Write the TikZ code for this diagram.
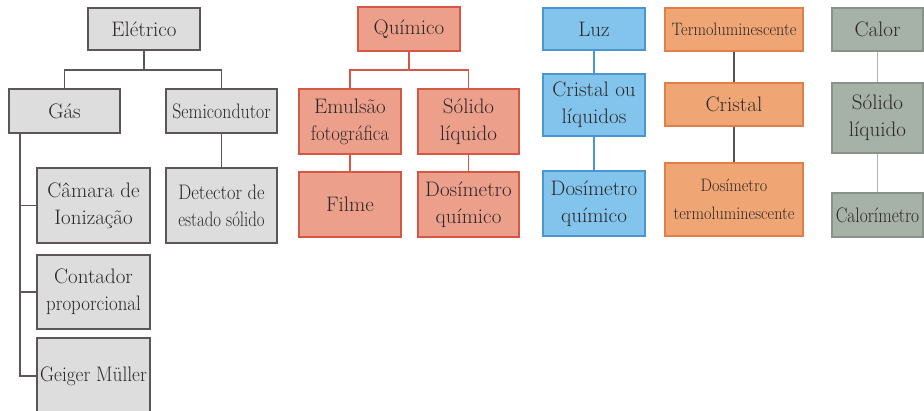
\documentclass[tikz,border=0pt]{standalone}
\usepackage{graphicx}

\definecolor{cinzafill}{RGB}{221,221,221}
\definecolor{cinzadraw}{RGB}{92,86,86}
\definecolor{quimfill}{RGB}{236,160,140}
\definecolor{quimdraw}{RGB}{212,88,68}
\definecolor{luzfill}{RGB}{130,196,236}
\definecolor{luzdraw}{RGB}{74,150,210}
\definecolor{termofill}{RGB}{240,166,116}
\definecolor{termodraw}{RGB}{224,128,72}
\definecolor{calorfill}{RGB}{166,177,167}
\definecolor{calordraw}{RGB}{136,146,138}
\definecolor{texto}{RGB}{45,40,40}

\newcommand{\estreito}[2][0.85]{\scalebox{#1}[1]{#2}}

\tikzset{
    caixa/.style={draw, line width=1.3pt, inner sep=0pt, align=center,
        text=texto, font=\fontsize{21}{27}\selectfont},
    tam/.style 2 args={minimum width=#1pt, minimum height=#2pt},
    cinza/.style={caixa, fill=cinzafill, draw=cinzadraw},
    quim/.style={caixa, fill=quimfill, draw=quimdraw},
    luz/.style={caixa, fill=luzfill, draw=luzdraw},
    termo/.style={caixa, fill=termofill, draw=termodraw},
    calor/.style={caixa, fill=calorfill, draw=calordraw},
    liga/.style={line width=1.6pt, draw=#1}
}

\begin{document}
\begin{tikzpicture}[x=1pt,y=-1pt]
    \useasboundingbox (0,0) rectangle (924,410);

    % Elétrico
    \node[cinza, tam={112}{42}] (eletrico) at (144,29) {Elétrico};
    \node[cinza, tam={111}{44}] (gas) at (64.5,111) {Gás};
    \node[cinza, tam={111}{44}] (semi) at (221.5,111) {\estreito{Semicondutor}};
    \node[cinza, tam={113}{75}] (camara) at (93.5,205.5) {Câmara de\\Ionização};
    \node[cinza, tam={113}{74}] (contador) at (93.5,292) {Contador\\\estreito[0.9]{proporcional}};
    \node[cinza, tam={113}{76}] (geiger) at (93.5,376) {\estreito[0.92]{Geiger Müller}};
    \node[cinza, tam={111}{75}] (detector) at (221.5,205.5) {\estreito[0.88]{Detector de}\\\estreito[0.8]{estado sólido}};

    \coordinate (ej) at (144,70);
    \draw[liga=cinzadraw] (eletrico.south) -- (ej);
    \draw[liga=cinzadraw] (ej) -| (gas.north);
    \draw[liga=cinzadraw] (ej) -| (semi.north);
    \draw[liga=cinzadraw] (semi.south) -- (detector.north);
    \coordinate (gj) at (20,133);
    \draw[liga=cinzadraw] (gj) |- (camara.west);
    \draw[liga=cinzadraw] (gj) |- (contador.west);
    \draw[liga=cinzadraw] (gj) |- (geiger.west);

    % Químico
    \node[quim, tam={102}{44}] (quimico) at (409,29) {Químico};
    \node[quim, tam={102}{65}] (emulsao) at (350,121.5) {Emulsão\\\estreito[0.89]{fotográfica}};
    \node[quim, tam={101}{65}] (solido) at (468.5,121.5) {Sólido\\líquido};
    \node[quim, tam={102}{65}] (filme) at (350,204.5) {Filme};
    \node[quim, tam={101}{65}] (dosquim) at (468.5,204.5) {Dosímetro\\químico};

    \coordinate (qj) at (409,70);
    \draw[liga=quimdraw] (quimico.south) -- (qj);
    \draw[liga=quimdraw] (qj) -| (emulsao.north);
    \draw[liga=quimdraw] (qj) -| (solido.north);
    \draw[liga=quimdraw] (emulsao.south) -- (filme.north);
    \draw[liga=quimdraw] (solido.south) -- (dosquim.north);

    % Luz
    \node[luz, tam={102}{42}] (luz) at (594,29) {Luz};
    \node[luz, tam={102}{62}] (cristalou) at (594,105) {Cristal ou\\líquidos};
    \node[luz, tam={102}{65}] (dosluz) at (594,203.5) {Dosímetro\\químico};
    \draw[liga=luzdraw] (luz) -- (cristalou);
    \draw[liga=luzdraw] (cristalou) -- (dosluz);

    % Termoluminescente
    \node[termo, tam={138}{43}, font=\fontsize{18}{25}\selectfont] (termo) at (734,29.5) {\estreito[0.9]{Termoluminescente}};
    \node[termo, tam={138}{43}] (cristal) at (734,104.5) {Cristal};
    \node[termo, tam={138}{73}, font=\fontsize{18}{28}\selectfont] (dostermo) at (734,199.5)
        {\estreito[0.9]{Dosímetro}\\\estreito[0.9]{termoluminescente}};
    \draw[liga=texto!80] (termo) -- (cristal);
    \draw[liga=texto!80] (cristal) -- (dostermo);

    % Calor
    \node[calor, tam={91}{43}] (calor) at (877.5,29.5) {Calor};
    \node[calor, tam={91}{70}] (solidoc) at (877.5,118) {Sólido\\líquido};
    \node[calor, tam={91}{44}] (calorimetro) at (877.5,215) {\estreito[0.83]{Calorímetro}};
    \draw[liga=black!30] (calor) -- (solidoc);
    \draw[liga=black!30] (solidoc) -- (calorimetro);
\end{tikzpicture}
\end{document}
